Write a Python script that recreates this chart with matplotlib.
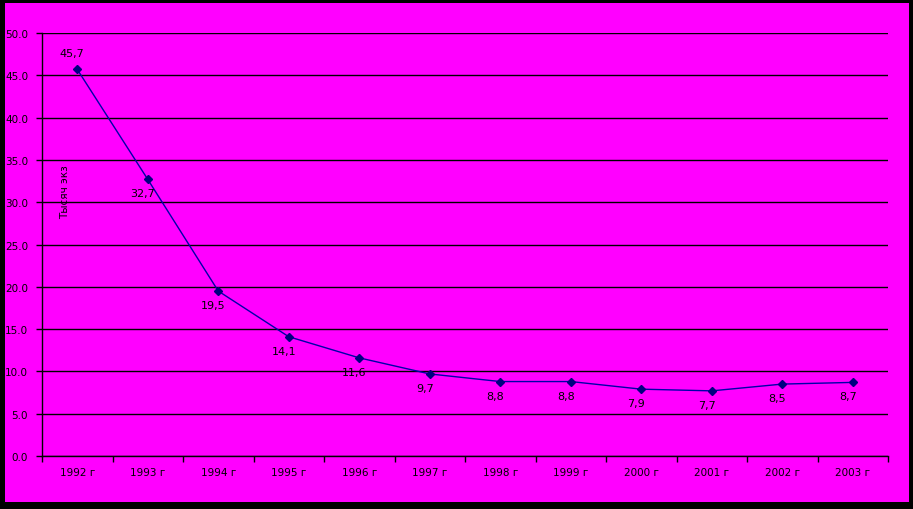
import matplotlib
matplotlib.use("Agg")
import matplotlib.pyplot as plt
from matplotlib.patches import Rectangle
import numpy as np

years = ["1992 г", "1993 г", "1994 г", "1995 г", "1996 г", "1997 г",
         "1998 г", "1999 г", "2000 г", "2001 г", "2002 г", "2003 г"]
values = [45.7, 32.7, 19.5, 14.1, 11.6, 9.7, 8.8, 8.8, 7.9, 7.7, 8.5, 8.7]
yticks = [0, 5, 10, 15, 20, 25, 30, 35, 40, 45, 50]
ylabel = "Тысяч экз"

W, H = 913, 510
fig = plt.figure(figsize=(W / 100, H / 100), dpi=100, facecolor="black")
fig.patches.append(Rectangle((5 / W, 1 - 503 / H), (909 - 5) / W, (503 - 4) / H,
                             transform=fig.transFigure, facecolor="#FF00FF",
                             edgecolor="none", zorder=-10))

left, right, top, bottom = 42, 888, 34, 457
ax = fig.add_axes([left / W, 1 - bottom / H, (right - left) / W, (bottom - top) / H])
ax.set_zorder(5)
ax.patch.set_alpha(0)

x = np.arange(len(years))
ax.plot(x, values, color="#0000a8", lw=1.0, marker="D", ms=4,
        mfc="#000080", mec="#000080", zorder=3)

for i, v in enumerate(values):
    lab = f"{v:.1f}".replace(".", ",")
    dy = 16 if i == 0 else -14
    ax.annotate(lab, (i, v), xytext=(-5, dy), textcoords="offset pixels",
                ha="center", va="center", fontsize=8, color="black")

ax.set_xlim(-0.5, len(years) - 0.5)
ax.set_ylim(0, 50)
ax.set_yticks(yticks)
ax.set_yticklabels([f"{t:.1f}" for t in yticks])
ax.yaxis.grid(True, color="black", lw=1)
ax.set_axisbelow(True)

ax.set_xticks(x)
ax.set_xticklabels(years)
ax.set_xticks(np.arange(-0.5, len(years)), minor=True)
ax.tick_params(axis="x", which="major", length=0, pad=8, labelsize=7.5, colors="black")
ax.tick_params(axis="x", which="minor", length=4, width=1, color="black", direction="out")
ax.tick_params(axis="y", length=4, width=1, color="black", direction="out", pad=6,
               labelsize=7.5, labelcolor="black")

for s in ["top", "right"]:
    ax.spines[s].set_visible(False)
for s in ["left", "bottom"]:
    ax.spines[s].set_color("black")
    ax.spines[s].set_linewidth(1)

fig.text(65 / W, 1 - 192 / H, ylabel, rotation=90, ha="center", va="center",
         fontsize=7.5, color="black", zorder=10)

fig.savefig("out.png", dpi=100, facecolor="black")
